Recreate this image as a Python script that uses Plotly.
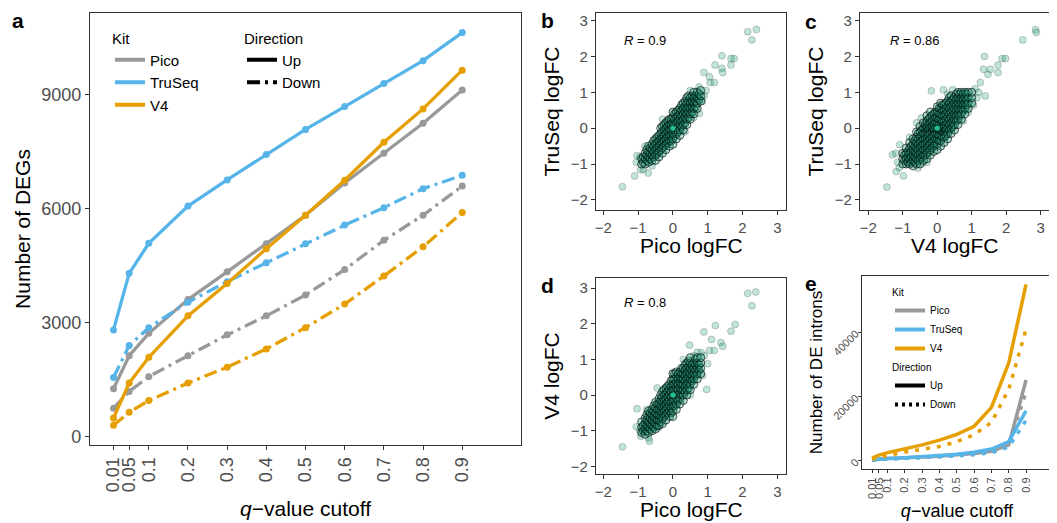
import plotly.graph_objects as go

W, H = 1057, 523
OFF = 8  # the page body adds an 8px margin around the figure
FONT = "Liberation Sans, Arial, sans-serif"

# ---- panel a: number of DEGs per q-value cutoff ----
q_cutoffs = [0.01, 0.05, 0.1, 0.2, 0.3, 0.4, 0.5, 0.6, 0.7, 0.8, 0.9]
q_labels = ["0.01", "0.05", "0.1", "0.2", "0.3", "0.4", "0.5", "0.6", "0.7", "0.8", "0.9"]

pico_up = [1260, 2130, 2720, 3610, 4340, 5080, 5830, 6680, 7460, 8250, 9130]
pico_down = [750, 1190, 1580, 2130, 2680, 3180, 3730, 4400, 5170, 5830, 6600]
truseq_up = [2810, 4300, 5090, 6070, 6760, 7430, 8090, 8690, 9300, 9900, 10640]
truseq_down = [1560, 2400, 2870, 3540, 4080, 4580, 5080, 5570, 6030, 6530, 6880]
v4_up = [490, 1410, 2090, 3180, 4030, 4950, 5830, 6750, 7750, 8630, 9650]
v4_down = [300, 640, 950, 1410, 1830, 2310, 2870, 3490, 4230, 5000, 5900]

# ---- panel e: number of DE introns per q-value cutoff ----
intron_pico_up = [400, 600, 800, 1000, 1200, 1500, 1900, 2300, 3000, 5000, 25200]
intron_pico_down = [300, 500, 650, 850, 1050, 1300, 1600, 2000, 2700, 4700, 21500]
intron_truseq_up = [400, 600, 800, 1000, 1300, 1700, 2100, 2700, 3700, 6000, 15600]
intron_truseq_down = [250, 450, 600, 800, 1000, 1300, 1600, 2000, 2600, 4300, 12700]
intron_v4_up = [900, 1800, 2600, 3800, 5000, 6500, 8300, 10800, 16700, 30500, 55000]
intron_v4_down = [500, 1100, 1700, 2800, 3700, 4500, 6000, 8200, 12000, 22300, 41000]
intron_ticks = [0, 20000, 40000]
intron_tick_labels = ["0", "20000", "40000"]

kits = ["Pico", "TruSeq", "V4"]
kit_colors = ["#999999", "#56B4E9", "#E69F00"]

# ---- panels b-d: logFC scatter (dense core by column, then sparse points) ----
b_core = [
    (-0.9, [-1.0, -0.85]),
    (-0.85, [-0.95, -0.8]),
    (-0.8, [-1.0, -0.85, -0.7]),
    (-0.75, [-0.9, -0.75, -0.6]),
    (-0.7, [-0.95, -0.8, -0.65, -0.5]),
    (-0.65, [-0.85, -0.7, -0.55]),
    (-0.6, [-0.9, -0.75, -0.6, -0.45]),
    (-0.55, [-0.8, -0.65, -0.5, -0.35]),
    (-0.5, [-0.9, -0.75, -0.6, -0.45, -0.3]),
    (-0.45, [-0.7, -0.55, -0.4, -0.25]),
    (-0.4, [-0.8, -0.65, -0.5, -0.35, -0.2]),
    (-0.35, [-0.6, -0.45, -0.3, -0.15, 0.0]),
    (-0.3, [-0.7, -0.55, -0.4, -0.25, -0.1, 0.05]),
    (-0.25, [-0.5, -0.35, -0.2, -0.05, 0.1]),
    (-0.2, [-0.6, -0.45, -0.3, -0.15, 0.0, 0.15]),
    (-0.15, [-0.4, -0.25, -0.1, 0.05, 0.2]),
    (-0.1, [-0.5, -0.35, -0.2, -0.05, 0.1, 0.25]),
    (-0.05, [-0.35, -0.2, -0.05, 0.1, 0.25]),
    (0.0, [-0.45, -0.3, -0.15, 0.0, 0.15, 0.3, 0.45]),
    (0.05, [-0.2, -0.05, 0.1, 0.25, 0.4]),
    (0.1, [-0.3, -0.15, 0.0, 0.15, 0.3, 0.45]),
    (0.15, [-0.1, 0.05, 0.2, 0.35, 0.5]),
    (0.2, [-0.2, -0.05, 0.1, 0.25, 0.4, 0.55]),
    (0.25, [0.05, 0.2, 0.35, 0.5, 0.65]),
    (0.3, [-0.05, 0.1, 0.25, 0.4, 0.55, 0.7]),
    (0.35, [0.15, 0.3, 0.45, 0.6, 0.75]),
    (0.4, [0.1, 0.25, 0.4, 0.55, 0.7, 0.85]),
    (0.45, [0.3, 0.45, 0.6, 0.75, 0.9]),
    (0.5, [0.25, 0.4, 0.55, 0.7, 0.85]),
    (0.55, [0.45, 0.6, 0.75, 0.9]),
    (0.6, [0.4, 0.55, 0.7, 0.85, 1.0]),
    (0.65, [0.6, 0.75, 0.9]),
    (0.7, [0.55, 0.7, 0.85, 1.0]),
    (0.75, [0.8, 0.95]),
    (0.8, [0.75, 0.9, 1.05]),
]
b_sparse = [(2.15, 2.69), (2.4, 2.75), (2.27, 2.46), (1.76, 1.94), (1.67, 1.94), (1.41, 2.02),
            (1.41, 1.67), (1.21, 1.76), (1.43, 1.55), (1.67, 1.76), (0.89, 1.55), (1.07, 1.27),
            (1.19, 1.27), (1.05, 1.43), (0.76, 0.41), (-1.45, -1.63), (-1.1, -1.33), (-1.03, -0.76),
            (-0.93, -1.16), (-0.71, -1.25), (-1.05, -0.95), (0.95, 1.05), (0.85, 0.75), (0.75, 1.15),
            (-0.85, -1.15), (-0.95, -0.8), (-0.6, -1.05), (0.5, 1.05), (-0.3, 0.25), (0.35, -0.1),
            (-0.8, -0.5), (0.6, 0.3), (0.9, 0.9)]

c_core = [
    (-1.0, [-1.0, -0.85, -0.7]),
    (-0.95, [-0.9, -0.75]),
    (-0.9, [-1.0, -0.85, -0.7, -0.55]),
    (-0.85, [-0.95, -0.8, -0.65]),
    (-0.8, [-1.0, -0.85, -0.7, -0.55, -0.4]),
    (-0.75, [-0.95, -0.8, -0.65, -0.5]),
    (-0.7, [-1.05, -0.9, -0.75, -0.6, -0.45, -0.3]),
    (-0.65, [-0.95, -0.8, -0.65, -0.5, -0.35]),
    (-0.6, [-1.0, -0.85, -0.7, -0.55, -0.4, -0.25, -0.1]),
    (-0.55, [-0.9, -0.75, -0.6, -0.45, -0.3, -0.15]),
    (-0.5, [-1.0, -0.85, -0.7, -0.55, -0.4, -0.25, -0.1, 0.05]),
    (-0.45, [-0.8, -0.65, -0.5, -0.35, -0.2, -0.05]),
    (-0.4, [-0.9, -0.75, -0.6, -0.45, -0.3, -0.15, 0.0, 0.15]),
    (-0.35, [-0.75, -0.6, -0.45, -0.3, -0.15, 0.0, 0.1]),
    (-0.3, [-0.85, -0.7, -0.55, -0.4, -0.25, -0.1, 0.0, 0.05, 0.2, 0.35]),
    (-0.25, [-0.65, -0.5, -0.35, -0.2, -0.05, 0.0, 0.1, 0.25]),
    (-0.2, [-0.75, -0.6, -0.45, -0.3, -0.15, 0.0, 0.15, 0.3, 0.45]),
    (-0.15, [-0.55, -0.4, -0.25, -0.1, 0.0, 0.05, 0.2, 0.35]),
    (-0.1, [-0.65, -0.5, -0.35, -0.2, -0.05, 0.0, 0.1, 0.25, 0.4]),
    (-0.05, [-0.45, -0.3, -0.15, 0.0, 0.15, 0.3, 0.45]),
    (0.0, [-0.6, -0.45, -0.3, -0.15, 0.0, 0.15, 0.3, 0.45, 0.6]),
    (0.05, [-0.35, -0.2, -0.05, 0.0, 0.1, 0.25, 0.4, 0.55]),
    (0.1, [-0.5, -0.35, -0.2, -0.05, 0.0, 0.1, 0.25, 0.4, 0.55, 0.7]),
    (0.15, [-0.25, -0.1, 0.0, 0.05, 0.2, 0.35, 0.5, 0.65]),
    (0.2, [-0.4, -0.25, -0.1, 0.0, 0.05, 0.2, 0.35, 0.5, 0.65]),
    (0.25, [-0.2, -0.05, 0.0, 0.1, 0.25, 0.4, 0.55, 0.7]),
    (0.3, [-0.3, -0.15, 0.0, 0.15, 0.3, 0.45, 0.6, 0.75]),
    (0.35, [-0.05, 0.1, 0.25, 0.4, 0.55, 0.7, 0.85]),
    (0.4, [-0.15, 0.0, 0.15, 0.3, 0.45, 0.6, 0.75, 0.9]),
    (0.45, [0.05, 0.2, 0.35, 0.5, 0.65, 0.8]),
    (0.5, [-0.05, 0.1, 0.25, 0.4, 0.55, 0.7, 0.85]),
    (0.55, [0.2, 0.35, 0.5, 0.65, 0.8, 0.95]),
    (0.6, [0.1, 0.25, 0.4, 0.55, 0.7, 0.85, 1.0]),
    (0.65, [0.35, 0.5, 0.65, 0.8, 0.95]),
    (0.7, [0.25, 0.4, 0.55, 0.7, 0.85, 1.0]),
    (0.75, [0.5, 0.65, 0.8, 0.95]),
    (0.8, [0.4, 0.55, 0.7, 0.85, 1.0]),
    (0.85, [0.65, 0.8, 0.95]),
    (0.9, [0.55, 0.7, 0.85, 1.0]),
    (1.0, [0.7, 0.85, 1.0]),
]
c_sparse = [(2.85, 2.74), (2.87, 2.67), (2.48, 2.46), (1.37, 2.0), (1.34, 1.64), (1.54, 1.64),
            (1.47, 1.5), (1.76, 1.55), (1.88, 1.94), (1.98, 1.94), (1.76, 1.76), (1.25, 1.27),
            (1.39, 0.9), (1.05, 0.64), (0.45, 1.07), (0.18, 1.07), (-1.46, -1.64), (-1.19, -1.21),
            (-0.98, -1.33), (-1.3, -0.74), (-1.09, -0.46), (-0.56, -1.11), (-0.42, -0.97),
            (-0.46, 0.29), (-0.17, 1.04), (1.2, 1.0), (1.1, 1.1), (1.15, 0.85), (-1.15, -0.95),
            (-1.2, -0.7), (-0.8, -0.25), (-0.6, 0.15), (0.3, 0.95), (0.75, 0.2), (0.9, 0.45),
            (-0.3, -0.95), (-1.1, -1.1)]

d_core = [
    (-0.9, [-1.05, -0.9, -0.75]),
    (-0.85, [-1.0, -0.85]),
    (-0.8, [-1.1, -0.95, -0.8, -0.65]),
    (-0.75, [-1.0, -0.85, -0.7, -0.55]),
    (-0.7, [-1.05, -0.9, -0.75, -0.6, -0.45]),
    (-0.65, [-0.95, -0.8, -0.65, -0.5]),
    (-0.6, [-1.0, -0.85, -0.7, -0.55, -0.4]),
    (-0.55, [-0.9, -0.75, -0.6, -0.45, -0.3]),
    (-0.5, [-0.95, -0.8, -0.65, -0.5, -0.35, -0.2]),
    (-0.45, [-0.85, -0.7, -0.55, -0.4, -0.25]),
    (-0.4, [-0.85, -0.7, -0.55, -0.4, -0.25, -0.1]),
    (-0.35, [-0.75, -0.6, -0.45, -0.3, -0.15, 0.0]),
    (-0.3, [-0.8, -0.65, -0.5, -0.35, -0.2, -0.05, 0.1]),
    (-0.25, [-0.6, -0.45, -0.3, -0.15, 0.0, 0.15]),
    (-0.2, [-0.7, -0.55, -0.4, -0.25, -0.1, 0.05, 0.2]),
    (-0.15, [-0.5, -0.35, -0.2, -0.05, 0.1, 0.25]),
    (-0.1, [-0.6, -0.45, -0.3, -0.15, 0.0, 0.15, 0.3]),
    (-0.05, [-0.5, -0.35, -0.2, -0.05, 0.1, 0.25, 0.4]),
    (0.0, [-0.6, -0.45, -0.3, -0.15, 0.0, 0.15, 0.3, 0.45, 0.6]),
    (0.05, [-0.3, -0.15, 0.0, 0.15, 0.3, 0.45, 0.6]),
    (0.1, [-0.4, -0.25, -0.1, 0.05, 0.2, 0.35, 0.5, 0.65]),
    (0.15, [-0.15, 0.0, 0.15, 0.3, 0.45, 0.6]),
    (0.2, [-0.25, -0.1, 0.05, 0.2, 0.35, 0.5, 0.65]),
    (0.25, [0.0, 0.15, 0.3, 0.45, 0.6, 0.75]),
    (0.3, [-0.15, 0.0, 0.15, 0.3, 0.45, 0.6, 0.75]),
    (0.35, [0.1, 0.25, 0.4, 0.55, 0.7, 0.85]),
    (0.4, [0.0, 0.15, 0.3, 0.45, 0.6, 0.75, 0.9]),
    (0.45, [0.2, 0.35, 0.5, 0.65, 0.8, 0.95]),
    (0.5, [0.15, 0.3, 0.45, 0.6, 0.75, 0.9, 1.05]),
    (0.55, [0.4, 0.55, 0.7, 0.85]),
    (0.6, [0.3, 0.45, 0.6, 0.75, 0.9]),
    (0.65, [0.55, 0.7, 0.85, 1.0]),
    (0.7, [0.45, 0.6, 0.75, 0.9, 1.05]),
    (0.75, [0.7, 0.85]),
    (0.8, [0.6, 0.75, 0.9, 1.05]),
]
d_sparse = [(2.15, 2.85), (2.38, 2.89), (2.27, 2.5), (1.79, 1.98), (1.67, 1.79), (1.22, 1.95),
            (0.89, 1.77), (1.11, 1.56), (1.38, 1.47), (1.43, 1.37), (1.05, 1.25), (1.19, 1.25),
            (1.0, 0.88), (0.97, 0.16), (0.48, 1.4), (0.81, 1.19), (-1.45, -1.45), (-1.03, -0.38),
            (-1.05, -0.89), (-0.92, -1.15), (-0.67, -1.29), (-0.43, -0.92), (0.9, 1.1), (0.7, 1.2),
            (0.85, 0.55), (-0.95, -1.0), (-0.7, -1.2), (-0.75, -0.4), (0.3, 1.0), (0.5, 0.0),
            (-0.45, 0.2), (0.6, 1.1)]

r_values = ["0.9", "0.86", "0.8"]


def fx(px):
    return (px - OFF) / W


def fy(py):
    return 1 - (py - OFF) / H


fig = go.Figure()

# panel a lines
a_series = [(pico_up, pico_down), (truseq_up, truseq_down), (v4_up, v4_down)]
DOWN_DASH = "13px,5px,3px,5px"
for kit, color, (up, down) in zip(kits, kit_colors, a_series):
    for vals, dash in [(up, "solid"), (down, DOWN_DASH)]:
        fig.add_trace(go.Scatter(
            x=q_cutoffs, y=vals, mode="lines+markers",
            line=dict(color=color, width=3.3, dash=dash),
            marker=dict(color=color, size=7),
            xaxis="x", yaxis="y", showlegend=False))

for kit, color in zip(kits, kit_colors):
    fig.add_trace(go.Scatter(x=[None], y=[None], mode="lines", name=kit,
                             line=dict(color=color, width=4), legend="legend",
                             xaxis="x", yaxis="y"))
for name, dash in [("Up", "solid"), ("Down", DOWN_DASH)]:
    fig.add_trace(go.Scatter(x=[None], y=[None], mode="lines", name=name,
                             line=dict(color="black", width=4, dash=dash), legend="legend2",
                             xaxis="x", yaxis="y"))

# panels b, c, d scatter
core_marker = dict(size=8, color="rgba(27,158,119,0.35)",
                   line=dict(color="rgba(0,0,0,0.62)", width=1))
sparse_marker = dict(size=7, color="rgba(27,158,119,0.28)",
                     line=dict(color="rgba(0,0,0,0.18)", width=1))
for (core, sparse), ax in zip([(b_core, b_sparse), (c_core, c_sparse), (d_core, d_sparse)],
                              ["2", "3", "4"]):
    fig.add_trace(go.Scatter(x=[p[0] for p in sparse], y=[p[1] for p in sparse],
                             mode="markers", marker=sparse_marker,
                             xaxis="x" + ax, yaxis="y" + ax, showlegend=False))
    fig.add_trace(go.Scatter(x=[x for x, ys in core for _ in ys],
                             y=[y for _, ys in core for y in ys],
                             mode="markers", marker=core_marker,
                             xaxis="x" + ax, yaxis="y" + ax, showlegend=False))
    fig.add_trace(go.Scatter(x=[0], y=[0], mode="markers",
                             marker=dict(size=5, color="#22c08e"),
                             xaxis="x" + ax, yaxis="y" + ax, showlegend=False))

# panel e lines
e_series = [(intron_pico_up, intron_pico_down), (intron_truseq_up, intron_truseq_down),
            (intron_v4_up, intron_v4_down)]
E_DOT = "4px,7px"
for kit, color, (up, down) in zip(kits, kit_colors, e_series):
    for vals, dash in [(up, "solid"), (down, E_DOT)]:
        fig.add_trace(go.Scatter(x=q_cutoffs, y=vals, mode="lines",
                                 line=dict(color=color, width=3.5, dash=dash),
                                 xaxis="x5", yaxis="y5", showlegend=False))
for kit, color in zip(kits, kit_colors):
    fig.add_trace(go.Scatter(x=[None], y=[None], mode="lines", name=kit,
                             line=dict(color=color, width=4), legend="legend3",
                             xaxis="x5", yaxis="y5"))
for name, dash in [("Up", "solid"), ("Down", "3px,4px")]:
    fig.add_trace(go.Scatter(x=[None], y=[None], mode="lines", name=name,
                             line=dict(color="black", width=4, dash=dash), legend="legend4",
                             xaxis="x5", yaxis="y5"))

axis_base = dict(showline=True, mirror=True, linecolor="#333333", linewidth=1.2,
                 ticks="outside", ticklen=4, tickwidth=1.1, tickcolor="#333333",
                 showgrid=False, zeroline=False, automargin=False,
                 tickfont=dict(size=18, color="#4d4d4d"),
                 title_font=dict(size=21, color="black"))
fc_ticks_font = dict(size=15, color="#4d4d4d")
small_ticks = dict(size=11, color="#4d4d4d")
fc_ticks = [-2, -1, 0, 1, 2, 3]

fig.update_layout(
    width=W, height=H, margin=dict(l=0, r=0, t=0, b=0),
    paper_bgcolor="white", plot_bgcolor="white",
    font=dict(family=FONT, color="black"),
    xaxis={**axis_base, "domain": [fx(90), fx(521)], "range": [-0.05, 1.05], "anchor": "y",
           "tickvals": q_cutoffs, "ticktext": q_labels, "tickangle": -90,
           "title": dict(text="<i>q</i>\u2212value cutoff", standoff=9)},
    yaxis={**axis_base, "domain": [fy(445), fy(13)], "range": [-220, 11155], "anchor": "x",
           "tickvals": [0, 3000, 6000, 9000],
           "title": dict(text="Number of DEGs", standoff=4)},
    xaxis2={**axis_base, "domain": [fx(596), fx(786)], "range": [-2.21, 3.25], "anchor": "y2",
            "tickvals": fc_ticks, "tickfont": fc_ticks_font},
    yaxis2={**axis_base, "domain": [fy(210), fy(13)], "range": [-2.28, 3.21], "anchor": "x2",
            "tickvals": fc_ticks, "tickfont": fc_ticks_font,
            "title": dict(text="TruSeq logFC", standoff=5)},
    xaxis3={**axis_base, "domain": [fx(860), fx(1049)], "range": [-2.24, 3.24], "anchor": "y3",
            "tickvals": fc_ticks, "tickfont": fc_ticks_font},
    yaxis3={**axis_base, "domain": [fy(210), fy(13)], "range": [-2.28, 3.21], "anchor": "x3",
            "tickvals": fc_ticks, "tickfont": fc_ticks_font,
            "title": dict(text="TruSeq logFC", standoff=5)},
    xaxis4={**axis_base, "domain": [fx(596), fx(786)], "range": [-2.21, 3.25], "anchor": "y4",
            "tickvals": fc_ticks, "tickfont": fc_ticks_font},
    yaxis4={**axis_base, "domain": [fy(474), fy(278)], "range": [-2.21, 3.28], "anchor": "x4",
            "tickvals": fc_ticks, "tickfont": fc_ticks_font,
            "title": dict(text="V4 logFC", standoff=5)},
    xaxis5={**axis_base, "domain": [fx(862), fx(1052)], "range": [-0.048, 1.05], "anchor": "y5",
            "tickvals": q_cutoffs, "ticktext": q_labels, "tickangle": -90,
            "tickfont": small_ticks, "ticklen": 3,
            "title": dict(text="<i>q</i>\u2212value cutoff", font=dict(size=18), standoff=6)},
    yaxis5={**axis_base, "domain": [fy(469), fy(276)], "range": [-2500, 57590], "anchor": "x5",
            "tickvals": intron_ticks, "ticktext": intron_tick_labels, "tickangle": -45,
            "tickfont": small_ticks, "ticklen": 3,
            "title": dict(text="Number of DE introns", font=dict(size=17), standoff=3)},
    legend=dict(x=fx(110), y=fy(24), xanchor="left", yanchor="top", bgcolor="rgba(0,0,0,0)",
                font=dict(size=15), title=dict(text="Kit", font=dict(size=15)),
                tracegroupgap=0, itemclick=False),
    legend2=dict(x=fx(242), y=fy(24), xanchor="left", yanchor="top", bgcolor="rgba(0,0,0,0)",
                 font=dict(size=15), title=dict(text="Direction", font=dict(size=15)),
                 tracegroupgap=0, itemclick=False),
    legend3=dict(x=fx(890), y=fy(283), xanchor="left", yanchor="top", bgcolor="rgba(0,0,0,0)",
                 font=dict(size=10), title=dict(text="Kit", font=dict(size=10)),
                 tracegroupgap=0, itemclick=False),
    legend4=dict(x=fx(890), y=fy(358), xanchor="left", yanchor="top", bgcolor="rgba(0,0,0,0)",
                 font=dict(size=10), title=dict(text="Direction", font=dict(size=10)),
                 tracegroupgap=0, itemclick=False),
)

annotations = []
for letter, px, py in [("a", 18, 20), ("b", 547, 20), ("c", 811, 21), ("d", 547, 285), ("e", 811, 283)]:
    annotations.append(dict(text="<b>%s</b>" % letter, x=fx(px), y=fy(py), xref="paper", yref="paper",
                            xanchor="center", yanchor="middle", showarrow=False,
                            font=dict(size=21, color="black")))
# x-axis titles of the logFC panels sit closer to the tick labels than plotly's standoff allows
for text, px, py in [("Pico logFC", 691, 246), ("V4 logFC", 955, 246), ("Pico logFC", 691, 509)]:
    annotations.append(dict(text=text, x=fx(px), y=fy(py), xref="paper", yref="paper",
                            xanchor="center", yanchor="middle", showarrow=False,
                            font=dict(size=21, color="black")))
for r, ax, rx, ry in zip(r_values, ["2", "3", "4"], [-1.45, -1.43, -1.45], [2.43, 2.44, 2.59]):
    annotations.append(dict(text="<i>R</i> = %s" % r, x=rx, y=ry, xref="x" + ax, yref="y" + ax,
                            xanchor="left", yanchor="middle", showarrow=False,
                            font=dict(size=13, color="black")))
fig.update_layout(annotations=annotations)

fig.write_html("out.html")
